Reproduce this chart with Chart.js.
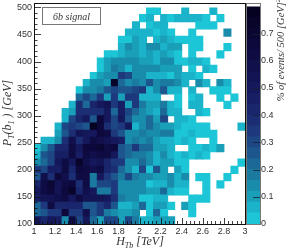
<!DOCTYPE html>
<html>
<head>
<meta charset="utf-8">
<script src="https://cdn.jsdelivr.net/npm/chart.js@4"></script>
<style>
body { margin: 0; background: #fff; }
canvas { position: absolute; left: 0; top: 0; filter: blur(0.3px); }
</style>
</head>
<body>
<canvas id="heatChart" width="289" height="251"></canvas>
<canvas id="barChart" width="289" height="251"></canvas>
<script>
// axis ranges and ticks
const xRange = [1, 3]
const yRange = [100, 500]
const zRange = [0, 0.8]
const xTicks = [1, 1.2, 1.4, 1.6, 1.8, 2, 2.2, 2.4, 2.6, 2.8, 3]
const yTicks = [100, 150, 200, 250, 300, 350, 400, 450, 500]
const zTicks = [0, 0.1, 0.2, 0.3, 0.4, 0.5, 0.6, 0.7]

// palette, one colour per 0.04 of the z axis
const palette = ['#1cc6d6', '#1bb3c9', '#1a9fb9', '#1a8cab', '#1b7aa0', '#1c6896', '#1c568c', '#1d4684', '#1e387d', '#1c2e73',
    '#1a266b', '#171e63', '#15195c', '#131454', '#110f4c', '#0f0c44', '#0d093c', '#0b0733', '#08042a', '#050120']

// % of events per bin, bottom row first, 0 = empty bin
const r0 = [.50,.42,.50,.46,.14,.62,.30,.50,.22,.10,.30,.30,.10,.30,.18,.06,.06,.10,.10,.10]
const r1 = [.22,.26,.34,.34,.66,.34,.34,.58,.26,.34,.18,.14,.10,.10,.14,0,.02,.22,.02,0,0,0,.02]
const r2 = [.22,.34,.62,.42,.42,.42,.42,.26,.26,.34,.42,.26,.06,.06,.10,.22,.02,.10,.10,.02,0,.10,.02]
const r3 = [.46,.54,.54,.58,.62,.50,.62,.54,.54,.54,.50,.38,.18,.14,.14,.02,.02,.06,.06,0,0,0,.02,.02,.02]
const r4 = [.50,.62,.66,.54,.66,.74,.42,.58,.50,.18,.18,.34,.14,.14,.14,.14,.10,.10,.22,.06,.02,.02,0,0,.02]
const r5 = [.42,.62,.70,.54,.62,.66,.38,.62,.18,.30,.30,.34,.14,.14,.14,.14,.02,.06,.06,.14,.06,.06,0,0,.02,0,.02]
const r6 = [.26,.58,.38,.66,.58,.38,.62,.62,.18,.50,.34,.26,.18,.30,.18,.14,.14,.10,.10,.14,.06,.14,0,.02,.02,0,0,.02]
const r7 = [.34,.30,.46,.46,.62,.42,.66,.62,.58,.62,.42,.38,.22,.14,.06,.30,.02,.26,.10,0,.10,.02,0,0,0,0,0,0,.02]
const r8 = [.14,.22,.30,.50,.62,.50,.74,.58,.50,.54,.42,.34,.34,.14,.14,.22,.14,.06,.10,.10,.02,.02,0,0,0,0,0,0,0,.02]
const r9 = [.06,.26,.30,.46,.46,.62,.46,.62,.58,.62,.62,.50,.26,.22,.18,.18,.14,.06,.14,.06,.02,.06,.02,.06,.02]
const r10 = [.02,.14,.26,.42,.42,.62,.50,.66,.66,.70,.62,.66,.26,.22,.34,.22,.22,.10,.10,.06,0,0,.02,.02,.06,.02,.10]
const r11 = [0,.06,.06,.14,.38,.58,.38,.50,.62,.58,.54,.50,.46,.14,.18,.14,.18,.10,.06,.06,.02,.06,.02,0,0,.02]
const r12 = [0,0,0,.10,.26,.38,.54,.50,.50,.66,.62,.34,.26,.14,.14,.18,.14,.14,.18,.18,.02,.02,.06,.02,.02,.02]
const r13 = [0,0,0,.06,.30,.34,.30,.26,.78,.66,.38,.30,.34,.50,.06,.14,.22,.14,.10,.10,.06,.02,.02,.02,.02,0,0,0,0,.06]
const r14 = [0,0,0,0,.06,.30,.42,.50,.26,.66,.50,.30,.50,.26,.14,.14,.22,.10,.30,0,.06,.06,.02]
const r15 = [0,0,0,0,.06,.10,.38,.38,.38,.38,.50,.22,.46,.30,.22,.14,.10,.06,.22,.06,.06,0,0,.06,.02]
const r16 = [0,0,0,0,0,.06,.38,.22,.42,.50,.54,.34,.46,.10,.34,.18,.10,.10,.18,.06,.02,0,.06,.06,0,0,0,.02]
const r17 = [0,0,0,0,0,0,.22,.30,.22,.34,.10,.34,.10,.34,.34,.06,.06,.06,0,0,.02,0,.02,.06,0,0,.02,0,.02]
const r18 = [0,0,0,0,0,0,.02,.14,.14,.18,.26,.30,.26,.26,.30,.34,.06,.14,.26,.06,.06,0,.06,0,0,.02,.02,.02]
const r19 = [0,0,0,0,0,0,0,.06,.14,.14,.10,.74,.22,.14,.18,.14,.26,.14,.18,.18,.14,.06,0,.14,.06,0,.14,.06]
const r20 = [0,0,0,0,0,0,0,0,.02,.10,.14,.14,.34,.30,.14,.14,.06,.06,.06,.02,.10,.06,.06,.02]
const r21 = [0,0,0,0,0,0,0,0,0,.02,.10,.18,.14,.06,.14,.14,.14,.14,.10,.10,.10,0,.02,0,.06,.02]
const r22 = [0,0,0,0,0,0,0,0,0,.02,.10,.14,.14,.14,.14,.10,.10,.06,.14,.14,.02,.02,.06,.06,.02]
const r23 = [0,0,0,0,0,0,0,0,0,0,.02,.02,.06,.10,.10,.06,.10,.06,.10,.06,.02,0,.02,0,0,0,.02]
const r24 = [0,0,0,0,0,0,0,0,0,0,0,0,.06,.14,.10,.06,.14,.14,.06,.10,.10,0,.02,.02,0,0,0,.02]
const r25 = [0,0,0,0,0,0,0,0,0,0,0,0,.02,.02,.10,.06,0,.06,.10,.06,.02,.02,.02,.02]
const r26 = [0,0,0,0,0,0,0,0,0,0,0,0,0,.06,.06,.06,.06,.02,.06,.02,0,0,.02,0,0,0,0,.14]
const r27 = [0,0,0,0,0,0,0,0,0,0,0,0,0,0,.06,0,.02,.06,.06,0,0,0,0,.02,.02,.02]
const r28 = [0,0,0,0,0,0,0,0,0,0,0,0,0,0,0,.02,.06,0,.06,.02,.06,.06,.06,.06,.02,0,.02]
const r29 = [0,0,0,0,0,0,0,0,0,0,0,0,0,0,0,0,.02,.02,0,0,0,.06,0,0,0,.06]
const rows = [r0, r1, r2, r3, r4, r5, r6, r7, r8, r9, r10, r11, r12, r13, r14, r15, r16, r17, r18, r19, r20, r21, r22, r23, r24, r25, r26, r27, r28, r29]

// plot geometry
const plotBox = { left: 34, top: 3, right: 245, bottom: 224 }
const barBox = { left: 247, right: 260 }
const textColor = '#333'

const nBins = 30
const xStep = (xRange[1] - xRange[0]) / nBins
const yStep = (yRange[1] - yRange[0]) / nBins

function colorFor(v) {
    return palette[Math.min(palette.length - 1, Math.floor(v / 0.04))]
}

// one floating bar per filled bin, one dataset per row
const heatSets = rows.map((row, j) => {
    const cells = []
    row.forEach((v, i) => {
        if (v > 0) {
            cells.push({ x: xRange[0] + (i + 0.5) * xStep, y: [yRange[0] + j * yStep, yRange[0] + (j + 1) * yStep], v: v })
        }
    })
    return {
        data: cells,
        backgroundColor: ctx => ctx.raw ? colorFor(ctx.raw.v) : 'transparent',
        borderWidth: 0,
        inflateAmount: 0.5,
        barPercentage: 1,
        categoryPercentage: 1,
        grouped: false
    }
})

// one floating bar per colour level for the colour bar
const barSets = palette.map((c, k) => ({
    data: [[k * 0.04, (k + 1) * 0.04]],
    backgroundColor: c,
    borderWidth: 0,
    inflateAmount: 0.5,
    barPercentage: 1,
    categoryPercentage: 1,
    grouped: false
}))

// draw a line of text made of runs, sub and superscripts have their own size and shift
function drawRuns(ctx, cx, cy, rotated, runs) {
    ctx.save()
    ctx.translate(cx, cy)
    if (rotated) ctx.rotate(-Math.PI / 2)
    ctx.fillStyle = textColor
    ctx.textBaseline = 'alphabetic'
    ctx.textAlign = 'left'
    let total = 0
    runs.forEach(r => {
        ctx.font = `italic ${r.size}px 'Liberation Serif'`
        total += ctx.measureText(r.t).width
    })
    let x = -total / 2
    runs.forEach(r => {
        ctx.font = `italic ${r.size}px 'Liberation Serif'`
        ctx.fillText(r.t, x, r.dy || 0)
        x += ctx.measureText(r.t).width
    })
    ctx.restore()
}

// inward ticks, frame, legend box and axis titles
const decorPlugin = {
    id: 'decor',
    afterDraw(chart) {
        const ctx = chart.ctx
        const xs = chart.scales.x
        const ys = chart.scales.y
        ctx.save()
        ctx.strokeStyle = '#111'
        ctx.lineWidth = 0.8
        ctx.beginPath()
        for (let k = 0; k <= 50; k++) {
            const px = Math.round(xs.getPixelForValue(xRange[0] + k * 0.04)) + 0.5
            ctx.moveTo(px, plotBox.bottom)
            ctx.lineTo(px, plotBox.bottom - (k % 5 === 0 ? 6 : 3))
        }
        for (let k = 0; k <= 40; k++) {
            const py = Math.round(ys.getPixelForValue(yRange[0] + k * 10)) + 0.5
            ctx.moveTo(plotBox.left, py)
            ctx.lineTo(plotBox.left + (k % 5 === 0 ? 7 : 3.5), py)
        }
        ctx.stroke()

        // frame
        ctx.strokeStyle = '#111'
        ctx.lineWidth = 1
        ctx.strokeRect(plotBox.left + 0.5, plotBox.top + 0.5, plotBox.right - plotBox.left, plotBox.bottom - plotBox.top)

        // legend box
        ctx.fillStyle = '#fff'
        ctx.strokeStyle = '#777'
        ctx.fillRect(42.5, 7.5, 58, 17)
        ctx.strokeRect(42.5, 7.5, 58, 17)
        ctx.restore()

        drawRuns(ctx, 71.5, 20, false, [{ t: '6b signal', size: 10 }])
        drawRuns(ctx, 140, 245, false, [{ t: 'H', size: 12 }, { t: 'Tb', size: 8, dy: 2.5 }, { t: ' [TeV]', size: 12 }])
        drawRuns(ctx, 11, 113, true, [{ t: 'P', size: 12 }, { t: 'T', size: 8, dy: 2.5 }, { t: '(b', size: 12 }, { t: '1', size: 8, dy: 2.5 }, { t: ' ) [GeV]', size: 12 }])
        drawRuns(ctx, 284, 50, true, [{ t: '% of events/ 500 [GeV]', size: 10.5 }, { t: '2', size: 7, dy: -4 }])
    }
}

// heat map
new Chart(document.getElementById('heatChart'), {
    type: 'bar',
    data: { datasets: heatSets },
    options: {
        responsive: false,
        animation: false,
        layout: { padding: { left: 0, top: plotBox.top, right: 289 - plotBox.right, bottom: 0 } },
        plugins: { legend: { display: false }, tooltip: { enabled: false } },
        scales: {
            x: {
                type: 'linear',
                offset: false,
                min: xRange[0],
                max: xRange[1],
                afterBuildTicks: s => { s.ticks = xTicks.map(v => ({ value: v })) },
                afterFit: s => { s.height = 251 - plotBox.bottom },
                grid: { display: false, drawTicks: false, offset: false },
                border: { display: false },
                ticks: { font: { family: 'Liberation Sans', size: 9 }, color: textColor, padding: 2, maxRotation: 0, autoSkip: false, callback: v => String(v) }
            },
            y: {
                type: 'linear',
                min: yRange[0],
                max: yRange[1],
                afterBuildTicks: s => { s.ticks = yTicks.map(v => ({ value: v })) },
                afterFit: s => { s.width = plotBox.left },
                grid: { display: false, drawTicks: false },
                border: { display: false },
                ticks: { font: { family: 'Liberation Sans', size: 9 }, color: textColor, padding: 2, autoSkip: false }
            }
        }
    },
    plugins: [decorPlugin]
})

// colour bar ticks and outline
const barPlugin = {
    id: 'barDecor',
    afterDraw(chart) {
        const ctx = chart.ctx
        const ys = chart.scales.y
        ctx.save()
        ctx.strokeStyle = '#123'
        ctx.lineWidth = 0.8
        ctx.beginPath()
        zTicks.forEach(v => {
            const py = Math.round(ys.getPixelForValue(v)) + 0.5
            ctx.moveTo(barBox.right, py)
            ctx.lineTo(barBox.right - 7, py)
        })
        ctx.stroke()
        ctx.strokeStyle = '#777'
        ctx.lineWidth = 1
        ctx.strokeRect(barBox.left - 0.5, plotBox.top + 0.5, barBox.right - barBox.left + 1, plotBox.bottom - plotBox.top)
        ctx.restore()
    }
}

// colour bar
new Chart(document.getElementById('barChart'), {
    type: 'bar',
    data: { labels: ['z'], datasets: barSets },
    options: {
        responsive: false,
        animation: false,
        layout: { padding: { left: barBox.left, top: plotBox.top, right: 0, bottom: 251 - plotBox.bottom } },
        plugins: { legend: { display: false }, tooltip: { enabled: false } },
        scales: {
            x: { display: false },
            y: {
                position: 'right',
                min: zRange[0],
                max: zRange[1],
                afterBuildTicks: s => { s.ticks = zTicks.map(v => ({ value: v })) },
                afterFit: s => { s.width = 289 - barBox.right },
                grid: { display: false, drawTicks: false },
                border: { display: false },
                ticks: { font: { family: 'Liberation Sans', size: 9 }, color: textColor, padding: 1, autoSkip: false, callback: v => String(v) }
            }
        }
    },
    plugins: [barPlugin]
})
</script>
</body>
</html>
